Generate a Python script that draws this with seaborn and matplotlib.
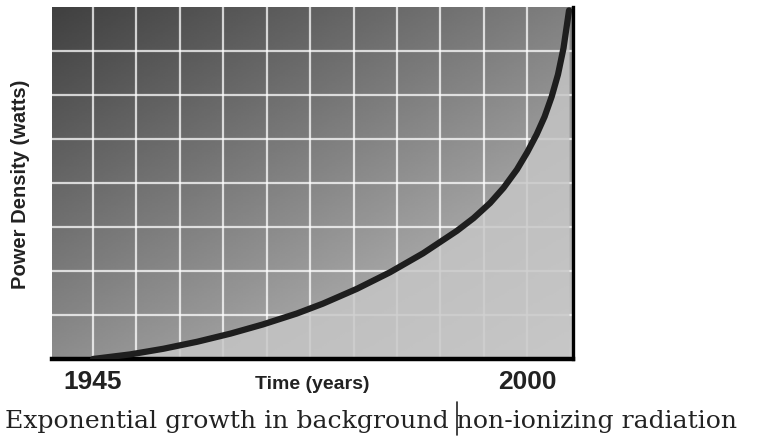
import numpy as np
import pandas as pd
import matplotlib.pyplot as plt
import seaborn as sns
from matplotlib.lines import Line2D

# values (arbitrary power density scale 0-100)
years = [1945.0, 1949.7, 1953.9, 1958.2, 1962.4, 1966.5, 1970.8, 1974.1,
         1978.4, 1982.6, 1986.8, 1991.1, 1993.2, 1995.3, 1997.0, 1998.7,
         2000.0, 2001.2, 2002.2, 2003.1, 2003.9, 2004.6, 2005.3]
density = [0.0, 1.3, 2.9, 4.9, 7.2, 9.8, 12.9, 15.7,
           19.9, 24.6, 30.0, 36.4, 40.0, 44.3, 48.6, 53.8,
           58.7, 63.8, 68.8, 74.5, 80.8, 88.3, 99.0]
tick_years = [1945, 2000]
tick_labels = ["1945", "2000"]
caption = "Exponential growth in background non-ionizing radiation"

df = pd.DataFrame({"year": years, "density": density})

sns.set_style("white")
plt.rcParams["font.family"] = ["Liberation Sans", "DejaVu Sans"]

fig = plt.figure(figsize=(7.65, 4.39), dpi=100)
ax = fig.add_axes([0.068, 0.18, 0.681, 0.802])

x0, x1 = 1939.8, 2005.8
y0, y1 = 0, 100

# diagonal grey gradient behind everything
gx, gy = np.meshgrid(np.linspace(0, 1, 200), np.linspace(1, 0, 200))
grad = 0.25 + 0.25 * gx + 0.30 * (1 - gy)
ax.imshow(grad, cmap="gray", vmin=0, vmax=1, extent=[x0, x1, y0, y1],
          aspect="auto", zorder=0, interpolation="bilinear")

# white grid, 12 columns x 8 rows
for gxv in np.arange(1945, 2005, 5.5):
    ax.axvline(gxv, color="white", lw=1.6, alpha=0.75, zorder=1)
for gyv in np.arange(12.5, 100, 12.5):
    ax.axhline(gyv, color="white", lw=1.6, alpha=0.75, zorder=1)

# lighter area under the curve
ax.fill_between(df["year"], df["density"], 0, color="#c6c6c6", alpha=0.82,
                zorder=2, lw=0)

sns.lineplot(data=df, x="year", y="density", ax=ax, color="#1e1e1e",
             lw=4.5, zorder=3, solid_capstyle="round", solid_joinstyle="round")

ax.set_xlim(x0, x1)
ax.set_ylim(y0, y1)
ax.set_xticks(tick_years)
ax.set_xticklabels(tick_labels, fontsize=19, fontweight="bold", color="#222222")
ax.set_yticks([])
ax.tick_params(axis="x", length=0, pad=7)

ax.set_xlabel("Time (years)", fontsize=14, fontweight="bold", color="#222222")
ax.xaxis.set_label_coords(0.5, -0.045)
ax.set_ylabel("Power Density (watts)", fontsize=14.5, fontweight="bold",
              color="#222222")
ax.yaxis.set_label_coords(-0.043, 0.5)

for side in ["left", "top"]:
    ax.spines[side].set_visible(False)
ax.spines["bottom"].set_color("black")
ax.spines["bottom"].set_linewidth(3.2)
ax.spines["right"].set_color("black")
ax.spines["right"].set_linewidth(2.4)

fig.text(0.0065, 0.025, caption, family="DejaVu Serif", fontsize=18.1,
         color="#222222", ha="left", va="baseline")
# text cursor in the caption
fig.add_artist(Line2D([0.597, 0.597], [0.006, 0.082], color="#222222", lw=1.2))

fig.savefig("out.png", dpi=100)
